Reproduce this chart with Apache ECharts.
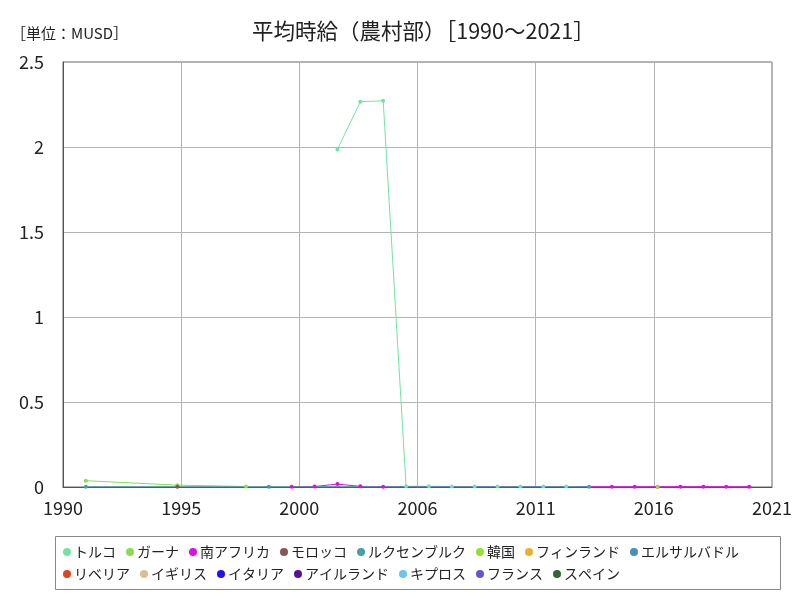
<!DOCTYPE html>
<html><head><meta charset="utf-8">
<script src="https://cdn.jsdelivr.net/npm/echarts@6/dist/echarts.min.js"></script>
<style>html,body{margin:0;padding:0;background:#fff}#c{width:800px;height:600px}</style>
</head><body><div id="c"></div>
<script>
const years = [];
for (let y = 1990; y <= 2021; y++) years.push(y);
const xTickLabels = ['1990','1995','2000','2006','2011','2016','2021'];
const seriesNames = ['トルコ','ガーナ','南アフリカ','モロッコ','ルクセンブルク','韓国','フィンランド','エルサルバドル','リベリア','イギリス','イタリア','アイルランド','キプロス','フランス','スペイン'];
const seriesColors = ['#72e4a2','#88dd55','#dd11dd','#885555','#4a9ea8','#99e033','#e8b030','#4a8fb5','#dd4422','#d8c090','#2211ee','#551199','#6ec4ea','#6655cc','#336633'];
const N = null;
// values per year 1990..2021
const turkey      = [N,N,N,N,N,N,N,N,N,N,N,N,1.986,2.266,2.272,0.004,0.004,0.003,0.003,0.003,0.003,0.003,0.003,N,N,N,N,N,N,N,N,N];
const ghana       = [N,0.037,N,N,N,0.011,N,N,0.003,N,N,N,N,N,N,N,N,N,N,N,N,N,N,N,N,N,N,N,N,N,N,N];
const southAfrica = [N,N,N,N,N,N,N,N,N,N,0.002,0.003,0.017,0.004,0.002,N,N,N,N,N,N,N,N,N,0.002,0.002,0.002,0.002,0.002,0.002,0.002,N];
const morocco     = [N,N,N,N,N,0.002,N,N,N,N,N,N,N,N,N,N,N,N,N,N,N,N,N,N,N,N,N,N,N,N,N,N];
const luxembourg  = [N,0.001,N,N,N,N,N,N,N,N,N,N,N,N,N,N,N,N,N,N,N,N,N,0.002,N,N,N,N,N,N,N,N];
const korea       = [N,N,N,N,N,N,N,N,N,N,N,N,N,N,N,N,N,N,N,N,N,N,N,N,N,N,0.002,N,N,N,N,N];
const finland     = [N,N,N,N,N,N,N,N,N,N,N,N,N,N,N,N,N,N,N,N,N,N,N,N,N,N,N,N,N,N,N,N];
const elSalvador  = [N,N,N,N,N,N,N,N,N,0.001,N,N,N,N,N,N,N,N,N,N,N,N,N,N,N,N,N,N,N,N,N,N];
const liberia     = [N,N,N,N,N,N,N,N,N,N,N,N,N,N,N,N,N,N,N,N,N,N,N,N,N,N,N,N,N,N,N,N];
const uk          = [N,N,N,N,N,N,N,N,N,N,N,N,N,N,N,N,N,N,N,N,N,N,N,N,N,N,N,N,N,N,N,N];
const italy       = [N,N,N,N,N,N,N,N,N,N,N,N,N,N,N,N,N,N,N,N,N,N,N,N,N,N,N,N,N,N,N,N];
const ireland     = [N,N,N,N,N,N,N,N,N,N,N,N,N,N,N,N,N,N,N,N,N,N,N,N,N,N,N,N,N,N,N,N];
const cyprus      = [N,N,N,N,N,N,N,N,N,N,N,N,N,N,N,N,N,N,N,N,N,N,N,N,N,N,N,N,N,N,N,N];
const france      = [N,N,N,N,N,N,N,N,N,N,N,N,N,N,N,N,N,N,N,N,N,N,N,N,N,N,N,N,N,N,N,N];
const spain       = [N,N,N,N,N,N,N,N,N,N,N,N,N,N,N,N,N,N,N,N,N,N,N,N,N,N,N,N,N,N,N,N];
const seriesValues = [turkey,ghana,southAfrica,morocco,luxembourg,korea,finland,elSalvador,liberia,uk,italy,ireland,cyprus,france,spain];

const FONT = '"Noto Sans CJK JP","Noto Sans",sans-serif';
const legendBase = {icon:'circle', itemWidth:8, itemHeight:8, itemGap:10, orient:'horizontal',
  textStyle:{fontSize:14, color:'#222', fontFamily:FONT, padding:[0,0,0,-2]}};
const chart = echarts.init(document.getElementById('c'), null, {renderer:'canvas'});
chart.setOption({
  animation:false,
  backgroundColor:'#fff',
  textStyle:{fontFamily:FONT},
  title:{text:'平均時給（農村部）［1990～2021］', left:247, top:15,
    textStyle:{fontSize:21.5, fontWeight:'normal', color:'#222', fontFamily:FONT}},
  graphic:[
    {type:'text', left:11, top:26, style:{text:'［単位：MUSD］', fontSize:15, fill:'#222', fontFamily:FONT}},
    {type:'rect', shape:{x:55.5,y:536.5,width:725,height:53}, style:{fill:'none', stroke:'#888', lineWidth:1}}
  ],
  legend:[
    Object.assign({}, legendBase, {left:58, top:540, data:seriesNames.slice(0,8)}),
    Object.assign({}, legendBase, {left:58, top:562, data:seriesNames.slice(8)})
  ],
  grid:{left:63, right:28, top:62, bottom:113, show:true, borderColor:'#666', borderWidth:1, backgroundColor:'#fff'},
  xAxis:[
    {type:'value', min:1990, max:2021, show:false},
    {type:'value', min:0, max:6, interval:1, position:'bottom',
      axisLine:{show:true, lineStyle:{color:'#555'}}, axisTick:{show:false},
      splitLine:{show:true, lineStyle:{color:'#b4b4b4', width:1}},
      axisLabel:{fontSize:18, color:'#222', margin:12, fontFamily:FONT, formatter:v=>xTickLabels[Math.round(v)]}}
  ],
  yAxis:{type:'value', min:0, max:2.5, interval:0.5,
    axisLine:{show:true, lineStyle:{color:'#555'}}, axisTick:{show:false},
    splitLine:{show:true, lineStyle:{color:'#b4b4b4', width:1}},
    axisLabel:{fontSize:18, color:'#222', margin:19, fontFamily:FONT}},
  series: seriesNames.map((name,i)=>({
    name, type:'line', xAxisIndex:0, yAxisIndex:0,
    data: years.map((y,j)=>[y, seriesValues[i][j]]),
    connectNulls:true, symbol:'circle', symbolSize:4, showSymbol:true,
    itemStyle:{color:seriesColors[i]}, lineStyle:{color:seriesColors[i], width:1}
  }))
});
</script></body></html>
